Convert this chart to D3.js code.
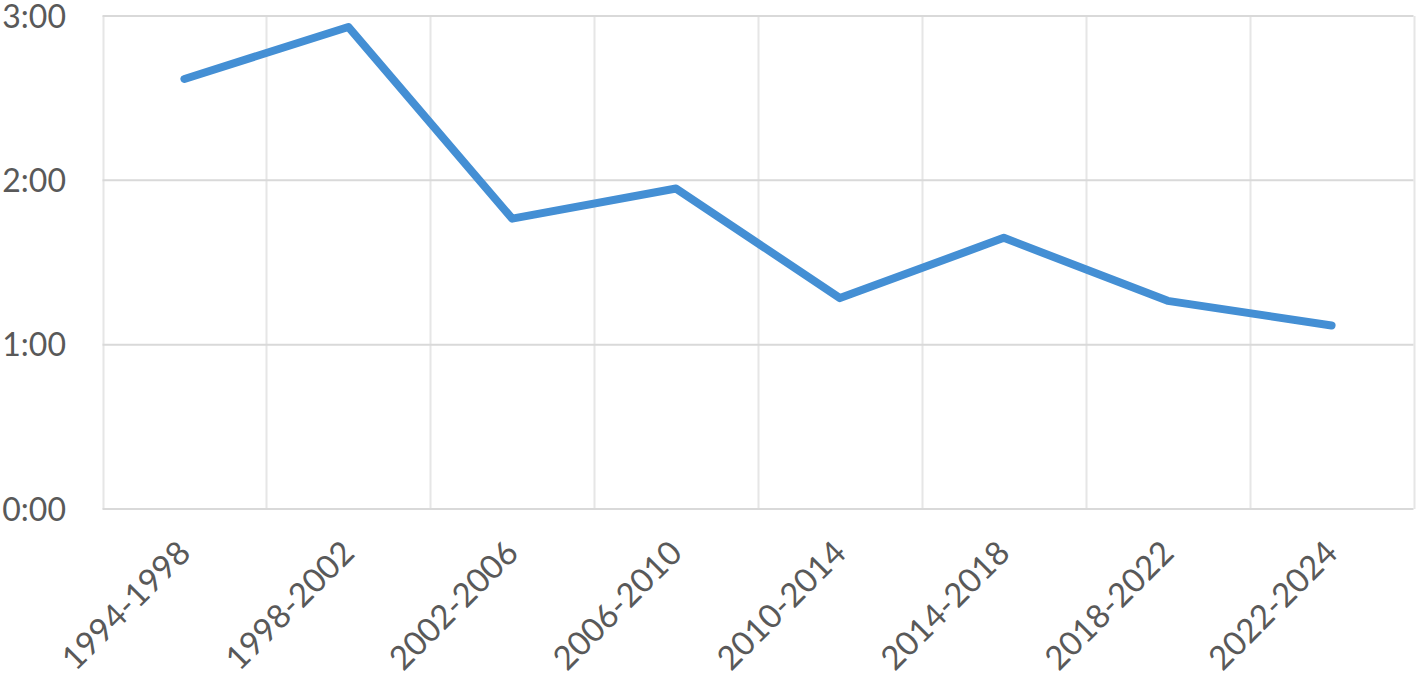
<!DOCTYPE html>
<html><head><meta charset="utf-8">
<script src="https://cdn.jsdelivr.net/npm/d3@7"></script>
<style>
html,body{margin:0;padding:0;background:#fff;}
text{font-family:Lato,"Open Sans",sans-serif;fill:#595959;}
</style></head>
<body>
<svg id="c" width="1421" height="675"></svg>
<script>
const categories = ["1994-1998","1998-2002","2002-2006","2006-2010","2010-2014","2014-2018","2018-2022","2022-2024"];
// values in minutes
const minutes = [157, 176, 106, 117, 77, 99, 76, 67];
const yTicks = [0, 60, 120, 180];

(function(){
const svg = d3.select("#c");
const mLeft = 102.5, mRight = 1413.5, mTop = 16, mBottom = 509;
const x = d3.scaleBand().domain(categories).range([mLeft, mRight]).paddingInner(0).paddingOuter(0);
const y = d3.scaleLinear().domain([0, 180]).range([mBottom, mTop]);
const fmt = m => Math.floor(m/60) + ":" + String(m%60).padStart(2,"0");

const g = svg.append("g");
const bounds = categories.map(c => x(c)).concat([x(categories[categories.length-1]) + x.bandwidth()]);
g.selectAll("line.v").data(bounds).join("line")
  .attr("x1", d => Math.round(d)+0.5).attr("x2", d => Math.round(d)+0.5)
  .attr("y1", mTop).attr("y2", mBottom)
  .attr("stroke", "#e6e6e6").attr("stroke-width", 2);
g.selectAll("line.h").data(yTicks).join("line")
  .attr("x1", mLeft).attr("x2", mRight)
  .attr("y1", d => y(d)).attr("y2", d => y(d))
  .attr("stroke", "#d9d9d9").attr("stroke-width", 2);

g.selectAll("text.y").data(yTicks).join("text")
  .attr("x", 66).attr("y", d => y(d)).attr("dy", "0.36em")
  .attr("text-anchor", "end").attr("font-size", 32)
  .text(fmt);

g.selectAll("text.x").data(categories).join("text")
  .attr("text-anchor", "end").attr("font-size", 33)
  .attr("transform", d => `translate(${x(d) + x.bandwidth()/2 + 8},${mBottom + 46}) rotate(-45)`)
  .text(d => d);

const line = d3.line().x((d,i) => x(categories[i]) + x.bandwidth()/2).y(d => y(d));
g.append("path").datum(minutes).attr("d", line)
  .attr("fill", "none").attr("stroke", "#448fd4").attr("stroke-width", 8)
  .attr("stroke-linecap", "round").attr("stroke-linejoin", "round");
})();
</script>
</body></html>
